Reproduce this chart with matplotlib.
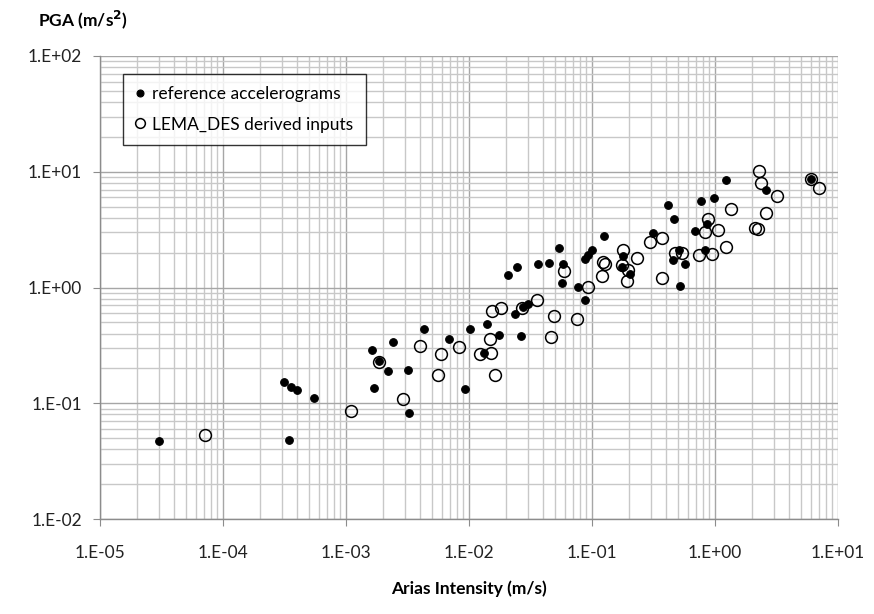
import matplotlib
matplotlib.use("Agg")
import matplotlib.pyplot as plt
from matplotlib.ticker import LogLocator, FuncFormatter, NullFormatter
import numpy as np

plt.rcParams['font.family'] = ['Lato', 'DejaVu Sans']

# Reference accelerograms (filled)
ref_ai = [3.03e-5, 3.13e-4, 3.55e-4, 4.0e-4, 5.46e-4, 3.42e-4, 1.64e-3, 1.85e-3,
          2.18e-3, 3.19e-3, 1.70e-3, 2.43e-3, 3.24e-3, 4.27e-3, 6.94e-3, 9.33e-3,
          1.02e-2, 1.32e-2, 1.39e-2, 1.74e-2, 2.09e-2, 2.46e-2, 2.37e-2, 2.76e-2,
          2.99e-2, 2.66e-2, 3.64e-2, 4.43e-2, 5.41e-2, 5.86e-2, 5.70e-2, 7.69e-2,
          8.77e-2, 9.95e-2, 9.33e-2, 8.77e-2, 0.126, 0.180, 0.174, 0.204,
          0.311, 0.412, 0.461, 0.507, 0.459, 0.570, 0.519, 0.693,
          0.773, 0.990, 0.869, 0.822, 1.23, 2.58, 6.00]
ref_pga = [0.047, 0.152, 0.139, 0.130, 0.110, 0.048, 0.288, 0.233,
           0.190, 0.195, 0.135, 0.338, 0.0828, 0.438, 0.356, 0.132,
           0.441, 0.270, 0.486, 0.389, 1.29, 1.50, 0.596, 0.683,
           0.720, 0.381, 1.59, 1.64, 2.21, 1.60, 1.09, 1.01,
           0.775, 2.09, 1.92, 1.75, 2.80, 1.88, 1.49, 1.31,
           2.97, 5.13, 3.89, 2.12, 1.74, 1.59, 1.03, 3.09,
           5.59, 5.95, 3.52, 2.10, 8.48, 6.92, 8.74]

# LEMA_DES derived inputs (open)
lema_ai = [7.15e-5, 1.09e-3, 1.84e-3, 2.92e-3, 4.00e-3, 5.55e-3, 5.92e-3, 8.37e-3,
           1.22e-2, 1.52e-2, 1.47e-2, 1.64e-2, 1.55e-2, 1.82e-2, 2.68e-2, 3.59e-2,
           4.61e-2, 4.95e-2, 7.55e-2, 5.97e-2, 9.35e-2, 0.122, 0.128, 0.120,
           0.180, 0.231, 0.174, 0.197, 0.194, 0.297, 0.373, 0.369,
           0.477, 0.544, 0.738, 0.940, 0.822, 0.883, 1.06, 1.22,
           1.36, 2.11, 2.25, 2.28, 2.35, 3.19, 2.61, 6.00, 7.05]
lema_pga = [0.0532, 0.0857, 0.229, 0.108, 0.313, 0.175, 0.266, 0.306,
            0.268, 0.270, 0.357, 0.176, 0.627, 0.662, 0.662, 0.785,
            0.376, 0.569, 0.531, 1.38, 1.01, 1.67, 1.61, 1.26,
            2.10, 1.79, 1.56, 1.41, 1.13, 2.47, 2.69, 1.22,
            2.00, 1.99, 1.91, 1.93, 3.00, 3.94, 3.13, 2.24,
            4.81, 3.29, 3.18, 10.2, 7.95, 6.21, 4.38, 8.74, 7.21]

x_ticks = [1e-5, 1e-4, 1e-3, 1e-2, 1e-1, 1e0, 1e1]
y_ticks = [1e-2, 1e-1, 1e0, 1e1, 1e2]

fig = plt.figure(figsize=(8.74, 6.14), dpi=100)
ax = fig.add_axes([100/874, 1-519/614, 738/874, 463/614])

ax.set_xscale('log')
ax.set_yscale('log')
ax.set_xlim(x_ticks[0], x_ticks[-1])
ax.set_ylim(y_ticks[0], y_ticks[-1])

ax.plot(ref_ai, ref_pga, linestyle='none', marker='o', markersize=5.5,
        markerfacecolor='black', markeredgecolor='black', markeredgewidth=0.8,
        label='reference accelerograms', zorder=3)
ax.plot(lema_ai, lema_pga, linestyle='none', marker='o', markersize=8.5,
        markerfacecolor='none', markeredgecolor='black', markeredgewidth=1.1,
        label='LEMA_DES derived inputs', zorder=4)

ax.set_xticks(x_ticks)
ax.set_yticks(y_ticks)
ax.xaxis.set_minor_locator(LogLocator(base=10, subs=np.arange(2, 10), numticks=20))
ax.yaxis.set_minor_locator(LogLocator(base=10, subs=np.arange(2, 10), numticks=20))
ax.xaxis.set_minor_formatter(NullFormatter())
ax.yaxis.set_minor_formatter(NullFormatter())

def fmt(v, pos):
    e = int(round(np.log10(v)))
    return "1.E%s%02d" % ('+' if e >= 0 else '-', abs(e))

ax.xaxis.set_major_formatter(FuncFormatter(fmt))
ax.yaxis.set_major_formatter(FuncFormatter(fmt))

ax.grid(True, which='major', color='#a6a6a6', linewidth=1.0)
ax.grid(True, which='minor', color='#c8c8c8', linewidth=1.0)
ax.set_axisbelow(True)

for s in ['top', 'right']:
    ax.spines[s].set_visible(False)
for s in ['left', 'bottom']:
    ax.spines[s].set_color('#8c8c8c')
    ax.spines[s].set_linewidth(1.0)

ax.tick_params(which='major', length=5, color='#8c8c8c', labelsize=12.5,
               labelcolor='#222222', direction='out')
ax.tick_params(which='minor', length=0)
ax.tick_params(axis='x', pad=14)
ax.tick_params(axis='y', pad=8)

ax.set_xlabel('Arias Intensity (m/s)', fontsize=12.5, fontweight='bold', labelpad=14)
fig.text(38/874, 1-20/614, 'PGA (m/s$^{\\mathbf{2}}$)', fontsize=12.5, fontweight='bold',
         ha='left', va='center')

leg = ax.legend(loc='upper left', bbox_to_anchor=(0.031, 0.962), frameon=True,
                fancybox=False, edgecolor='black', fontsize=12.5, handlelength=0.6,
                handletextpad=0.4, borderpad=0.7, labelspacing=0.85,
                borderaxespad=0)
leg.get_frame().set_linewidth(1.0)
leg.legend_handles[0].set_markersize(5)
leg.legend_handles[1].set_markersize(7)

fig.savefig('out.png', dpi=100)
